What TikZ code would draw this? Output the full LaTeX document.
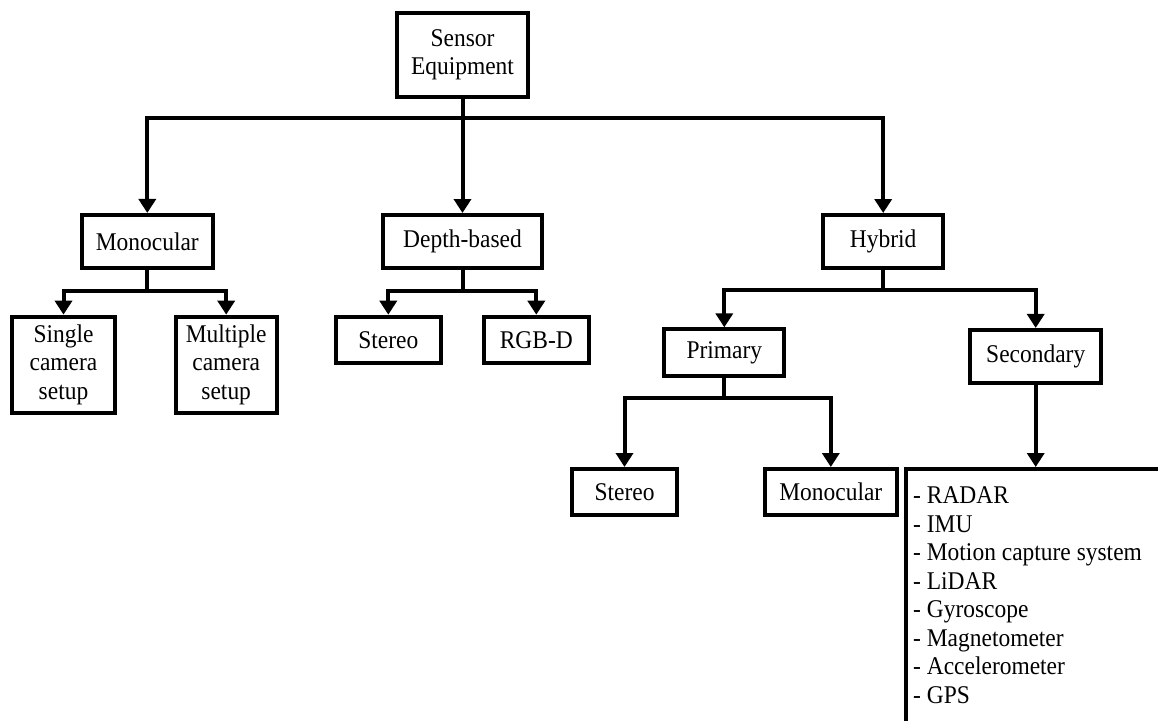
\documentclass[tikz,border=0pt]{standalone}
\usepackage{fontspec}
\setmainfont{Liberation Serif}[FakeStretch=0.92]
\usetikzlibrary{arrows.meta}
\begin{document}
\begin{tikzpicture}[x=1pt,y=-1pt,
  txt/.style={font=\fontsize{25.5}{28.5}\selectfont},
  box/.style={draw, line width=4pt, align=center, inner sep=0pt, txt},
  conn/.style={line width=4pt},
  arr/.style={conn, -{Triangle[width=17pt,length=14pt]}}]
\useasboundingbox (0,0) rectangle (1158,720);
\fill[white] (0,0) rectangle (1158,720);
\clip (0,0) rectangle (1158,720);
% level 0
\node[box, minimum width=131pt, minimum height=84pt] (sensor) at (462.5,54.7) {Sensor\\Equipment};
% level 1
\node[box, minimum width=130.7pt, minimum height=52.7pt] (mono) at (147.3,241.3) {Monocular};
\node[box, minimum width=158.7pt, minimum height=53pt] (depth) at (462.5,241.5) {Depth-based};
\node[box, minimum width=120.3pt, minimum height=53pt] (hybrid) at (883.2,241.5) {Hybrid};
% level 2
\node[box, minimum width=103.6pt, minimum height=96.3pt] (single) at (63.5,364.8) {Single\\camera\\setup};
\node[box, minimum width=101pt, minimum height=96.3pt] (multiple) at (226.2,364.8) {Multiple\\camera\\setup};
\node[box, minimum width=104.7pt, minimum height=46pt] (stereoA) at (388.3,339.7) {Stereo};
\node[box, minimum width=104.7pt, minimum height=46pt] (rgbd) at (536.3,339.7) {RGB-D};
\node[box, minimum width=120pt, minimum height=46.7pt] (primary) at (724.3,352.7) {Primary};
\node[box, minimum width=131.3pt, minimum height=52.7pt] (secondary) at (1035.7,356.3) {Secondary};
% level 3
\node[box, minimum width=104.4pt, minimum height=46pt] (stereoB) at (624.5,492) {Stereo};
\node[box, minimum width=131.7pt, minimum height=46pt] (monoB) at (830.8,492) {Monocular};
\node[box, anchor=north west, minimum width=300pt, minimum height=300pt] (list) at (904,467) {};
\node[txt, anchor=north west, align=left, inner sep=0pt] (listtext) at (913,486.5)
  {- RADAR\\- IMU\\- Motion capture system\\- LiDAR\\- Gyroscope\\- Magnetometer\\- Accelerometer\\- GPS};
% connectors
\coordinate (b0) at (462.5,117.7);
\draw[conn] (sensor.south) -- (b0);
\draw[arr] (b0) -| (mono.north);
\draw[arr] (b0) -- (depth.north);
\draw[arr] (b0) -| (hybrid.north);
\coordinate (b1) at (147.3,291);
\draw[conn] (mono.south) -- (b1);
\draw[arr] (b1) -| (single.north);
\draw[arr] (b1) -| (multiple.north);
\coordinate (b2) at (462.5,291);
\draw[conn] (depth.south) -- (b2);
\draw[arr] (b2) -| (stereoA.north);
\draw[arr] (b2) -| (rgbd.north);
\coordinate (b3) at (883.2,290);
\draw[conn] (hybrid.south) -- (b3);
\draw[arr] (b3) -| (primary.north);
\draw[arr] (b3) -| (secondary.north);
\coordinate (b4) at (724.3,398.3);
\draw[conn] (primary.south) -- (b4);
\draw[arr] (b4) -| (stereoB.north);
\draw[arr] (b4) -| (monoB.north);
\draw[arr] (secondary.south) -- (secondary.south |- list.north);
\end{tikzpicture}
\end{document}
